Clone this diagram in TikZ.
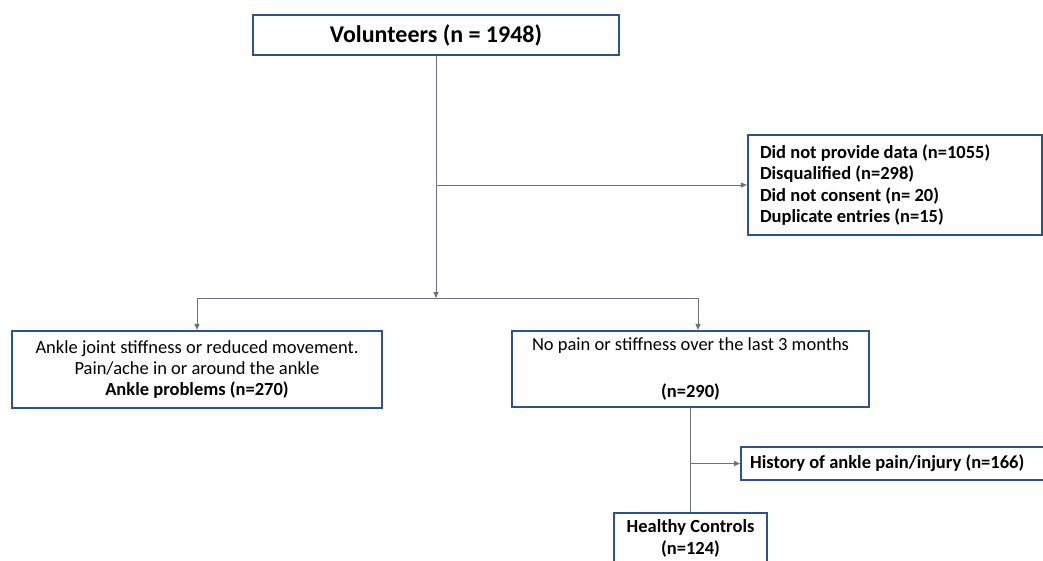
\documentclass[tikz,border=0pt]{standalone}
\usepackage{fontspec}
\setmainfont{Carlito}
\usetikzlibrary{arrows.meta}
\definecolor{boxblue}{RGB}{47,82,143}
\definecolor{linegrey}{RGB}{105,112,128}
\begin{document}
\begin{tikzpicture}[x=1pt,y=-1pt,
  box/.style={draw=boxblue,line width=2.2pt,fill=white,inner sep=4pt,align=center,font=\fontsize{18.5}{21}\selectfont},
  conn/.style={draw=linegrey,line width=1pt},
  arr/.style={conn,-{Triangle[length=6pt,width=5pt]}}]
\clip (0,0) rectangle (1043,560);
\fill[white] (0,0) rectangle (1043,560);
\node[box,minimum width=366pt,minimum height=40pt,font=\fontsize{24}{28}\selectfont\bfseries] (vol) at (436,35) {Volunteers (n = 1948)};
\node[box,minimum width=294pt,minimum height=100pt,align=flush left,inner xsep=12pt,text width=270pt,font=\fontsize{18.5}{21.5}\selectfont\bfseries] (exc) at (895,185) {Did not provide data (n=1055)\\Disqualified (n=298)\\Did not consent (n= 20)\\Duplicate entries (n=15)};
\node[box,minimum width=370pt,minimum height=77pt] (ank) at (197,369.5) {Ankle joint stiffness or reduced movement.\\Pain/ache in or around the ankle\\\textbf{Ankle problems (n=270)}};
\node[box,minimum width=357pt,minimum height=76pt,font=\fontsize{18.5}{23.5}\selectfont] (nop) at (690.5,369) {No pain or stiffness over the last 3 months\\[0pt]\\\textbf{(n=290)}};
\node[box,minimum height=33pt,anchor=west,align=flush left,inner xsep=9pt,text width=300pt,font=\fontsize{18.5}{21}\selectfont\bfseries] (his) at (740,463.5) {History of ankle pain/injury (n=166)};
\node[box,minimum width=153pt,inner ysep=6.5pt,anchor=north,font=\fontsize{18.5}{21.5}\selectfont\bfseries] (hea) at (690.5,512) {Healthy Controls\\(n=124)\\[-2pt]};
\coordinate (j1) at (436,298);
\coordinate (j2) at (436,185);
\coordinate (jl) at (197,298);
\coordinate (jr) at (698,298);
\coordinate (j3) at (690.5,463.5);
\draw[arr] (vol.south) -- (j1);
\draw[arr] (j2) -- (exc.west);
\draw[conn] (jl) -- (jr);
\draw[arr] (jl) -- (jl |- ank.north);
\draw[arr] (jr) -- (jr |- nop.north);
\draw[conn] (nop.south) -- (hea.north);
\draw[arr] (j3) -- (his.west);
\end{tikzpicture}
\end{document}
